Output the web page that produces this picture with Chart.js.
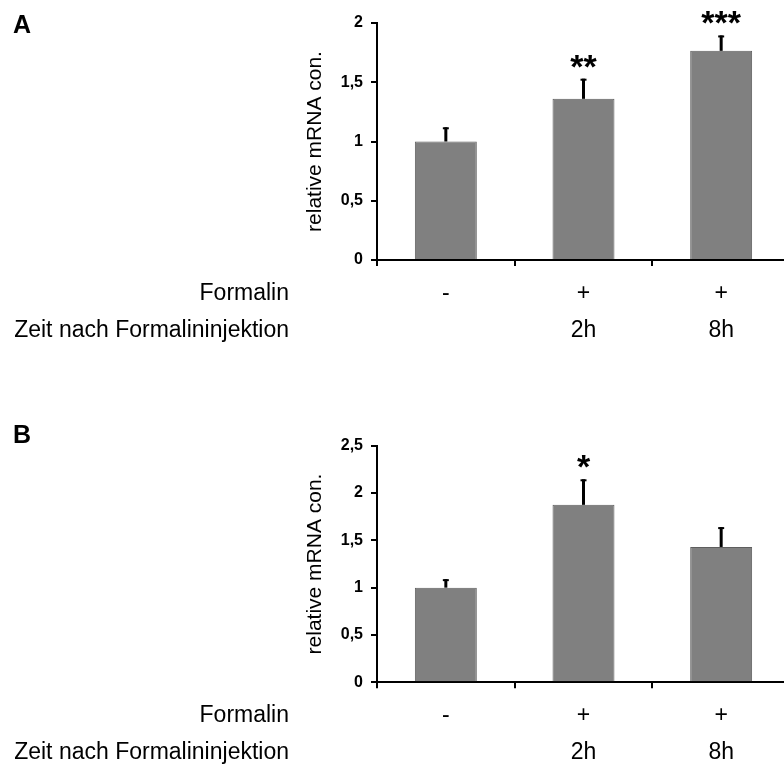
<!DOCTYPE html>
<html>
<head>
<meta charset="utf-8">
<script src="https://cdn.jsdelivr.net/npm/chart.js@4.4.0/dist/chart.umd.min.js"></script>
<style>
  html, body { margin: 0; padding: 0; background: #fff; overflow: hidden; }
  #page { position: relative; width: 784px; height: 767px; overflow: hidden; }
  .panel { position: absolute; left: 0; width: 800px; }
  #wrapA { top: 0; height: 390px; }
  #wrapB { top: 400px; height: 367px; }
</style>
</head>
<body>
<div id="page">
  <div class="panel" id="wrapA"><canvas id="chartA"></canvas></div>
  <div class="panel" id="wrapB"><canvas id="chartB"></canvas></div>
</div>
<script>
// categories: Formalin row / time row
const groups = [['-', ''], ['+', '2h'], ['+', '8h']];
const rowHeaders = ['Formalin', 'Zeit nach Formalininjektion'];

// panel A
const valuesA = [1.0, 1.36, 1.765];
const errorsA = [0.12, 0.17, 0.13];
const starsA = ['', '**', '***'];
const ticksA = [0, 0.5, 1, 1.5, 2];

// panel B
const valuesB = [1.0, 1.875, 1.43];
const errorsB = [0.09, 0.27, 0.21];
const starsB = ['', '*', ''];
const ticksB = [0, 0.5, 1, 1.5, 2, 2.5];

const FONT = '"Liberation Sans", Arial, sans-serif';
const TICK_LEN = 6;
const LABEL_PAD = 9;
const LINE_H = 37;

// error bars, significance stars, row headers, panel letter
const extras = {
    id: 'extras',
    afterDatasetsDraw(chart, args, opts) {
        const ctx = chart.ctx;
        const xs = chart.scales.x;
        const ys = chart.scales.y;
        const data = chart.data.datasets[0].data;
        ctx.save();
        ctx.strokeStyle = '#000';
        ctx.fillStyle = '#000';
        data.forEach((v, i) => {
            const cx = xs.getPixelForValue(i);
            const y0 = ys.getPixelForValue(v);
            const y1 = ys.getPixelForValue(v + opts.errors[i]);
            ctx.lineWidth = 3;
            ctx.beginPath();
            ctx.moveTo(cx, y0);
            ctx.lineTo(cx, y1);
            ctx.stroke();
            ctx.lineWidth = 2;
            ctx.beginPath();
            ctx.moveTo(cx - 3, y1 + 1);
            ctx.lineTo(cx + 3, y1 + 1);
            ctx.stroke();
            if (opts.stars[i]) {
                ctx.font = 'bold 34px ' + FONT;
                ctx.textAlign = 'center';
                ctx.textBaseline = 'alphabetic';
                ctx.fillText(opts.stars[i], cx, y1 - 1);
            }
        });

        // row headers next to the x tick labels
        ctx.font = '23px ' + FONT;
        ctx.textAlign = 'right';
        ctx.textBaseline = 'middle';
        rowHeaders.forEach((t, k) => {
            const y = xs.top + TICK_LEN + LABEL_PAD + LINE_H * (k + 0.5);
            ctx.fillText(t, 289, y);
        });

        // panel letter
        ctx.font = 'bold 25px ' + FONT;
        ctx.textAlign = 'left';
        ctx.textBaseline = 'alphabetic';
        ctx.fillText(opts.letter, 13, opts.letterY);
        ctx.restore();
    }
};

function makeChart(id, values, errors, stars, ticks, letter, letterY, padTop, padBottom) {
    const ctx = document.getElementById(id).getContext('2d');
    return new Chart(ctx, {
        type: 'bar',
        data: {
            labels: groups,
            datasets: [{
                data: values,
                backgroundColor: '#808080',
                borderColor: '#5e5e5e',
                borderWidth: 1,
                barPercentage: 0.45,
                categoryPercentage: 1.0
            }]
        },
        options: {
            responsive: true,
            maintainAspectRatio: false,
            animation: false,
            layout: { padding: { left: 290, right: 10, top: padTop, bottom: padBottom } },
            plugins: {
                legend: { display: false },
                tooltip: { enabled: false },
                extras: { errors: errors, stars: stars, letter: letter, letterY: letterY }
            },
            scales: {
                x: {
                    afterFit(scale) { scale.height = 80; },
                    border: { color: '#000', width: 2 },
                    grid: { offset: true, drawOnChartArea: false, drawTicks: true, tickLength: TICK_LEN, color: '#000', lineWidth: 2 },
                    ticks: {
                        color: '#000',
                        padding: LABEL_PAD,
                        maxRotation: 0,
                        autoSkip: false,
                        font: { family: FONT, size: 23, lineHeight: LINE_H / 23 }
                    }
                },
                y: {
                    min: ticks[0],
                    max: ticks[ticks.length - 1],
                    afterFit(scale) { scale.width = 87; },
                    afterBuildTicks(scale) { scale.ticks = ticks.map(v => ({ value: v })); },
                    border: { color: '#000', width: 2 },
                    grid: { drawOnChartArea: false, drawTicks: true, tickLength: TICK_LEN, color: '#000', lineWidth: 2 },
                    ticks: {
                        color: '#000',
                        padding: 8,
                        font: { family: FONT, size: 16, weight: 'bold' },
                        callback: v => String(v).replace('.', ',')
                    },
                    title: {
                        display: true,
                        text: 'relative mRNA con.',
                        color: '#000',
                        padding: { top: 13, bottom: 0 },
                        font: { family: FONT, size: 21 }
                    }
                }
            }
        },
        plugins: [extras]
    });
}

makeChart('chartA', valuesA, errorsA, starsA, ticksA, 'A', 33, 23, 50);
makeChart('chartB', valuesB, errorsB, starsB, ticksB, 'B', 43, 45.7, 4.7);
</script>
</body>
</html>
